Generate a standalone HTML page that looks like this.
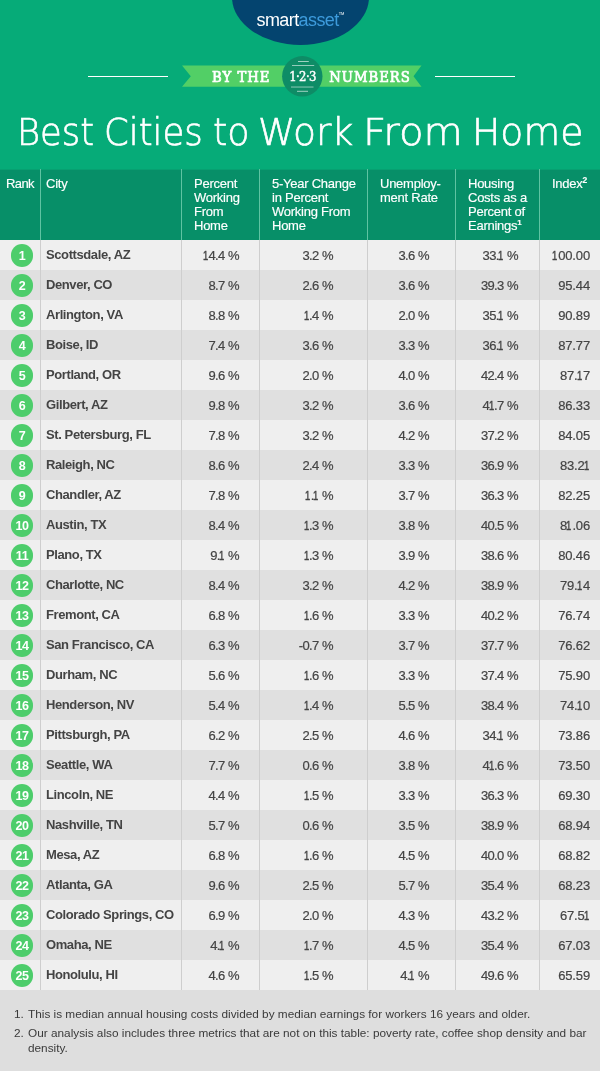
<!DOCTYPE html>
<html lang="en"><head><meta charset="utf-8"><title>Best Cities to Work From Home</title>
<style>
html,body{margin:0;padding:0}
body{width:600px;height:1071px;position:relative;overflow:hidden;background:#dedede;font-family:"Liberation Sans",Arial,sans-serif;}
#top{position:absolute;left:0;top:0;width:600px;height:170px;background:#06ab78;overflow:hidden}
#logo-ell{position:absolute;left:232px;top:-51px;width:137px;height:96px;border-radius:50%;background:#04446f}
#logo{position:absolute;left:232px;width:137px;top:10px;text-align:center;color:#fff;font-size:18px;letter-spacing:-0.6px;line-height:20px}
#logo .a{color:#3d9bdc}
#logo sup{font-size:4px;letter-spacing:0;vertical-align:top;position:relative;top:-1.5px;line-height:10px}
#title{position:absolute;left:0;top:109px;width:600px;height:48px;color:#fff;font-family:"DejaVu Sans",sans-serif;font-size:37px;line-height:48px;white-space:nowrap;font-weight:200;-webkit-text-stroke:0.65px #fff}
#title span{position:absolute;top:0;transform-origin:0 50%;display:block}
.hl{position:absolute;top:76px;height:1px;background:#fff}
#thead{position:absolute;left:0;top:169px;width:600px;height:70px;border-top:1px solid #07a071;background:#078f68;color:#fff;font-size:13px;line-height:14px;letter-spacing:-0.25px;-webkit-text-stroke:0.15px #fff}
#thead div{position:absolute;top:7px}
.vl{position:absolute;width:1px;background:#cecece;top:240px;height:750px}
.vlh{position:absolute;width:1px;background:#5fc3a2;top:169px;height:71px}
.row{position:absolute;left:0;width:600px;height:30px;font-size:13px;line-height:30px;color:#444}
.odd{background:#efefef}
.even{background:#e0e0e0}
.row span{position:absolute;top:0;white-space:nowrap}
.rk{left:10.7px;top:4px !important;width:22.6px;height:22.6px;border-radius:50%;background:#4dcd6b;color:#fff;text-align:center;line-height:24.4px;font-size:12.5px;letter-spacing:-0.4px}
.city{left:46px;font-weight:bold;color:#444;letter-spacing:-0.4px}
.v{text-align:right;top:1px !important;letter-spacing:-0.65px;word-spacing:0.5px;-webkit-text-stroke:0.2px #444}
.v i{font-style:normal;display:inline-block;transform:scaleX(0.72);margin:0 -0.2px 0 -1.5px;-webkit-text-stroke:0.45px #444}
.v5{letter-spacing:-0.15px !important}
.v1{right:361px}.v2{right:267px}.v3{right:171px}.v4{right:82px}.v5{right:10px}
#foot{position:absolute;left:0;top:990px;width:600px;color:#3a3a3a;font-size:11.8px;line-height:15px}
#foot div{position:absolute;white-space:nowrap}
</style></head><body>
<div id="top">
<div id="logo-ell"></div>
<div id="logo">smart<span class="a">asset</span><sup>TM</sup></div>
<div class="hl" style="left:88px;width:80px"></div>
<div class="hl" style="left:435px;width:80px"></div>
<svg id="ribbon" width="600" height="60" style="position:absolute;left:0;top:46px" viewBox="0 46 600 60">
<polygon points="182,65.5 300,65.5 300,86.8 182,86.8 190.8,76.15" fill="#52cf66"/>
<polygon points="300,65.5 421.5,65.5 413.5,76.15 421.5,86.8 300,86.8" fill="#52cf66"/>
<circle cx="302.3" cy="76.3" r="20.2" fill="#0e8c66"/>
<rect x="298" y="61" width="10.8" height="1" fill="#fff" opacity="0.6"/>
<rect x="292" y="65" width="22.2" height="1" fill="#fff" opacity="0.55"/>
<rect x="291" y="86.3" width="22.5" height="1.5" fill="#fff" opacity="0.35"/>
<rect x="297" y="90.8" width="11" height="1" fill="#fff" opacity="0.6"/>
<text x="241.3" y="81.5" text-anchor="middle" font-family="DejaVu Serif Condensed,DejaVu Serif,serif" font-size="14.7" fill="#fff" stroke="#fff" stroke-width="0.7" letter-spacing="1">BY THE</text>
<text x="370" y="81.5" text-anchor="middle" font-family="DejaVu Serif Condensed,DejaVu Serif,serif" font-size="14.7" fill="#fff" stroke="#fff" stroke-width="0.7" letter-spacing="1">NUMBERS</text>
<text x="302.5" y="80.5" text-anchor="middle" font-family="DejaVu Serif Condensed,DejaVu Serif,serif" font-size="13" letter-spacing="-0.6" fill="#fff" stroke="#fff" stroke-width="0.4">1·2·3</text>
</svg>
<div id="title"><span style="left:17.2px;transform:scaleX(0.953)">Best</span> <span style="left:103.6px;transform:scaleX(0.959)">Cities</span> <span style="left:213.3px;transform:scaleX(0.985)">to</span> <span style="left:258.1px;transform:scaleX(1.017)">Work</span> <span style="left:362.8px;transform:scaleX(1.089)">From</span> <span style="left:472px;transform:scaleX(1.019)">Home</span></div>
</div>
<div id="thead">
<div style="left:6px;letter-spacing:-0.6px">Rank</div>
<div style="left:46px">City</div>
<div style="left:194px">Percent<br>Working<br>From<br>Home</div>
<div style="left:272px">5-Year Change<br>in Percent<br>Working From<br>Home</div>
<div style="left:380px">Unemploy-<br>ment Rate</div>
<div style="left:468px">Housing<br>Costs as a<br>Percent of<br>Earnings<sup style="font-size:8px;line-height:0;font-weight:bold">1</sup></div>
<div style="left:552px">Index<sup style="font-size:8.5px;line-height:0;font-weight:bold">2</sup></div>
</div>
<div id="rows">
<div style="top:240px" class="row odd"><span class="rk"><b>1</b></span><span class="city">Scottsdale, AZ</span><span class="v v1"><i>1</i>4.4 %</span><span class="v v2">3.2 %</span><span class="v v3">3.6 %</span><span class="v v4">33.<i>1</i> %</span><span class="v v5"><i>1</i>00.00</span></div>
<div style="top:270px" class="row even"><span class="rk"><b>2</b></span><span class="city">Denver, CO</span><span class="v v1">8.7 %</span><span class="v v2">2.6 %</span><span class="v v3">3.6 %</span><span class="v v4">39.3 %</span><span class="v v5">95.44</span></div>
<div style="top:300px" class="row odd"><span class="rk"><b>3</b></span><span class="city">Arlington, VA</span><span class="v v1">8.8 %</span><span class="v v2"><i>1</i>.4 %</span><span class="v v3">2.0 %</span><span class="v v4">35.<i>1</i> %</span><span class="v v5">90.89</span></div>
<div style="top:330px" class="row even"><span class="rk"><b>4</b></span><span class="city">Boise, ID</span><span class="v v1">7.4 %</span><span class="v v2">3.6 %</span><span class="v v3">3.3 %</span><span class="v v4">36.<i>1</i> %</span><span class="v v5">87.77</span></div>
<div style="top:360px" class="row odd"><span class="rk"><b>5</b></span><span class="city">Portland, OR</span><span class="v v1">9.6 %</span><span class="v v2">2.0 %</span><span class="v v3">4.0 %</span><span class="v v4">42.4 %</span><span class="v v5">87.<i>1</i>7</span></div>
<div style="top:390px" class="row even"><span class="rk"><b>6</b></span><span class="city">Gilbert, AZ</span><span class="v v1">9.8 %</span><span class="v v2">3.2 %</span><span class="v v3">3.6 %</span><span class="v v4">4<i>1</i>.7 %</span><span class="v v5">86.33</span></div>
<div style="top:420px" class="row odd"><span class="rk"><b>7</b></span><span class="city">St. Petersburg, FL</span><span class="v v1">7.8 %</span><span class="v v2">3.2 %</span><span class="v v3">4.2 %</span><span class="v v4">37.2 %</span><span class="v v5">84.05</span></div>
<div style="top:450px" class="row even"><span class="rk"><b>8</b></span><span class="city">Raleigh, NC</span><span class="v v1">8.6 %</span><span class="v v2">2.4 %</span><span class="v v3">3.3 %</span><span class="v v4">36.9 %</span><span class="v v5">83.2<i>1</i></span></div>
<div style="top:480px" class="row odd"><span class="rk"><b>9</b></span><span class="city">Chandler, AZ</span><span class="v v1">7.8 %</span><span class="v v2"><i>1</i>.<i>1</i> %</span><span class="v v3">3.7 %</span><span class="v v4">36.3 %</span><span class="v v5">82.25</span></div>
<div style="top:510px" class="row even"><span class="rk"><b>10</b></span><span class="city">Austin, TX</span><span class="v v1">8.4 %</span><span class="v v2"><i>1</i>.3 %</span><span class="v v3">3.8 %</span><span class="v v4">40.5 %</span><span class="v v5">8<i>1</i>.06</span></div>
<div style="top:540px" class="row odd"><span class="rk"><b>11</b></span><span class="city">Plano, TX</span><span class="v v1">9.<i>1</i> %</span><span class="v v2"><i>1</i>.3 %</span><span class="v v3">3.9 %</span><span class="v v4">38.6 %</span><span class="v v5">80.46</span></div>
<div style="top:570px" class="row even"><span class="rk"><b>12</b></span><span class="city">Charlotte, NC</span><span class="v v1">8.4 %</span><span class="v v2">3.2 %</span><span class="v v3">4.2 %</span><span class="v v4">38.9 %</span><span class="v v5">79.<i>1</i>4</span></div>
<div style="top:600px" class="row odd"><span class="rk"><b>13</b></span><span class="city">Fremont, CA</span><span class="v v1">6.8 %</span><span class="v v2"><i>1</i>.6 %</span><span class="v v3">3.3 %</span><span class="v v4">40.2 %</span><span class="v v5">76.74</span></div>
<div style="top:630px" class="row even"><span class="rk"><b>14</b></span><span class="city">San Francisco, CA</span><span class="v v1">6.3 %</span><span class="v v2">-0.7 %</span><span class="v v3">3.7 %</span><span class="v v4">37.7 %</span><span class="v v5">76.62</span></div>
<div style="top:660px" class="row odd"><span class="rk"><b>15</b></span><span class="city">Durham, NC</span><span class="v v1">5.6 %</span><span class="v v2"><i>1</i>.6 %</span><span class="v v3">3.3 %</span><span class="v v4">37.4 %</span><span class="v v5">75.90</span></div>
<div style="top:690px" class="row even"><span class="rk"><b>16</b></span><span class="city">Henderson, NV</span><span class="v v1">5.4 %</span><span class="v v2"><i>1</i>.4 %</span><span class="v v3">5.5 %</span><span class="v v4">38.4 %</span><span class="v v5">74.<i>1</i>0</span></div>
<div style="top:720px" class="row odd"><span class="rk"><b>17</b></span><span class="city">Pittsburgh, PA</span><span class="v v1">6.2 %</span><span class="v v2">2.5 %</span><span class="v v3">4.6 %</span><span class="v v4">34.<i>1</i> %</span><span class="v v5">73.86</span></div>
<div style="top:750px" class="row even"><span class="rk"><b>18</b></span><span class="city">Seattle, WA</span><span class="v v1">7.7 %</span><span class="v v2">0.6 %</span><span class="v v3">3.8 %</span><span class="v v4">4<i>1</i>.6 %</span><span class="v v5">73.50</span></div>
<div style="top:780px" class="row odd"><span class="rk"><b>19</b></span><span class="city">Lincoln, NE</span><span class="v v1">4.4 %</span><span class="v v2"><i>1</i>.5 %</span><span class="v v3">3.3 %</span><span class="v v4">36.3 %</span><span class="v v5">69.30</span></div>
<div style="top:810px" class="row even"><span class="rk"><b>20</b></span><span class="city">Nashville, TN</span><span class="v v1">5.7 %</span><span class="v v2">0.6 %</span><span class="v v3">3.5 %</span><span class="v v4">38.9 %</span><span class="v v5">68.94</span></div>
<div style="top:840px" class="row odd"><span class="rk"><b>21</b></span><span class="city">Mesa, AZ</span><span class="v v1">6.8 %</span><span class="v v2"><i>1</i>.6 %</span><span class="v v3">4.5 %</span><span class="v v4">40.0 %</span><span class="v v5">68.82</span></div>
<div style="top:870px" class="row even"><span class="rk"><b>22</b></span><span class="city">Atlanta, GA</span><span class="v v1">9.6 %</span><span class="v v2">2.5 %</span><span class="v v3">5.7 %</span><span class="v v4">35.4 %</span><span class="v v5">68.23</span></div>
<div style="top:900px" class="row odd"><span class="rk"><b>23</b></span><span class="city">Colorado Springs, CO</span><span class="v v1">6.9 %</span><span class="v v2">2.0 %</span><span class="v v3">4.3 %</span><span class="v v4">43.2 %</span><span class="v v5">67.5<i>1</i></span></div>
<div style="top:930px" class="row even"><span class="rk"><b>24</b></span><span class="city">Omaha, NE</span><span class="v v1">4.<i>1</i> %</span><span class="v v2"><i>1</i>.7 %</span><span class="v v3">4.5 %</span><span class="v v4">35.4 %</span><span class="v v5">67.03</span></div>
<div style="top:960px" class="row odd"><span class="rk"><b>25</b></span><span class="city">Honolulu, HI</span><span class="v v1">4.6 %</span><span class="v v2"><i>1</i>.5 %</span><span class="v v3">4.<i>1</i> %</span><span class="v v4">49.6 %</span><span class="v v5">65.59</span></div>
</div>
<div class="vlh" style="left:40px"></div><div class="vlh" style="left:181px"></div><div class="vlh" style="left:259px"></div><div class="vlh" style="left:367px"></div><div class="vlh" style="left:455px"></div><div class="vlh" style="left:539px"></div>
<div class="vl" style="left:40px"></div><div class="vl" style="left:181px"></div><div class="vl" style="left:259px"></div><div class="vl" style="left:367px"></div><div class="vl" style="left:455px"></div><div class="vl" style="left:539px"></div>
<div id="foot">
<div style="left:14px;top:17px">1.</div><div style="left:28px;top:17px">This is median annual housing costs divided by median earnings for workers 16 years and older.</div>
<div style="left:14px;top:36px">2.</div><div style="left:28px;top:36px">Our analysis also includes three metrics that are not on this table: poverty rate, coffee shop density and bar</div>
<div style="left:28px;top:51px">density.</div>
</div>
</body></html>
